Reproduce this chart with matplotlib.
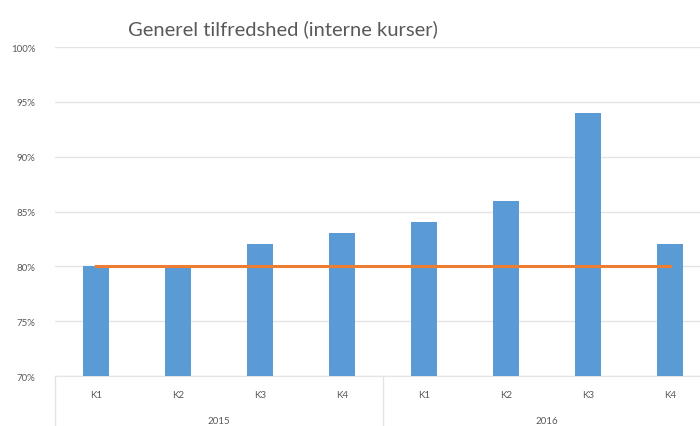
import matplotlib
matplotlib.use("Agg")
import matplotlib.pyplot as plt
import matplotlib.transforms as mtransforms
import numpy as np

plt.rcParams['font.family'] = ['Lato', 'DejaVu Sans']

quarters = ['K1', 'K2', 'K3', 'K4', 'K1', 'K2', 'K3', 'K4']
years = ['2015', '2016']
satisfaction = [80, 80, 82, 83, 84, 86, 94, 82]
target = [80, 80, 80, 80, 80, 80, 80, 80]

grey = '#595959'
grid = '#e4e4e4'

fig = plt.figure(figsize=(7, 4.27), dpi=100)
ax = fig.add_axes([55 / 700, 50 / 427, 656 / 700, 329 / 427])

x = np.arange(len(quarters))
ax.bar(x, satisfaction, width=0.32, color='#5b9bd5', zorder=3)
ax.plot(x, target, color='#ed7d31', linewidth=2.2, zorder=4)

ax.set_xlim(-0.5, len(quarters) - 0.5)
ax.set_ylim(70, 100)
ax.set_yticks(np.arange(70, 101, 5))
ax.set_yticklabels([f'{v}%' for v in range(70, 101, 5)], fontsize=7, color=grey)
ax.yaxis.grid(True, color=grid, linewidth=1)
ax.set_axisbelow(True)
ax.tick_params(axis='y', length=0, pad=14)

ax.set_xticks(x)
ax.set_xticklabels(quarters, fontsize=7, color=grey)
ax.tick_params(axis='x', length=0, pad=10)

for side in ['top', 'right', 'left']:
    ax.spines[side].set_visible(False)
ax.spines['bottom'].set_color(grid)

# year group labels and separators below the axis
trans = mtransforms.blended_transform_factory(ax.transData, ax.transAxes)
for i, yr in enumerate(years):
    ax.text(i * 4 + 1.5, -0.135, yr, transform=trans, ha='center', va='center',
            fontsize=7, color=grey)
for sx in [-0.5, 3.5, 7.5]:
    ax.plot([sx, sx], [0, -0.16], transform=trans, color=grid, linewidth=1,
            clip_on=False)

fig.text(283 / 700, 1 - 29 / 427, 'Generel tilfredshed (interne kurser)',
         ha='center', va='center', fontsize=14.5, color=grey)

fig.savefig('out.png', dpi=100)
